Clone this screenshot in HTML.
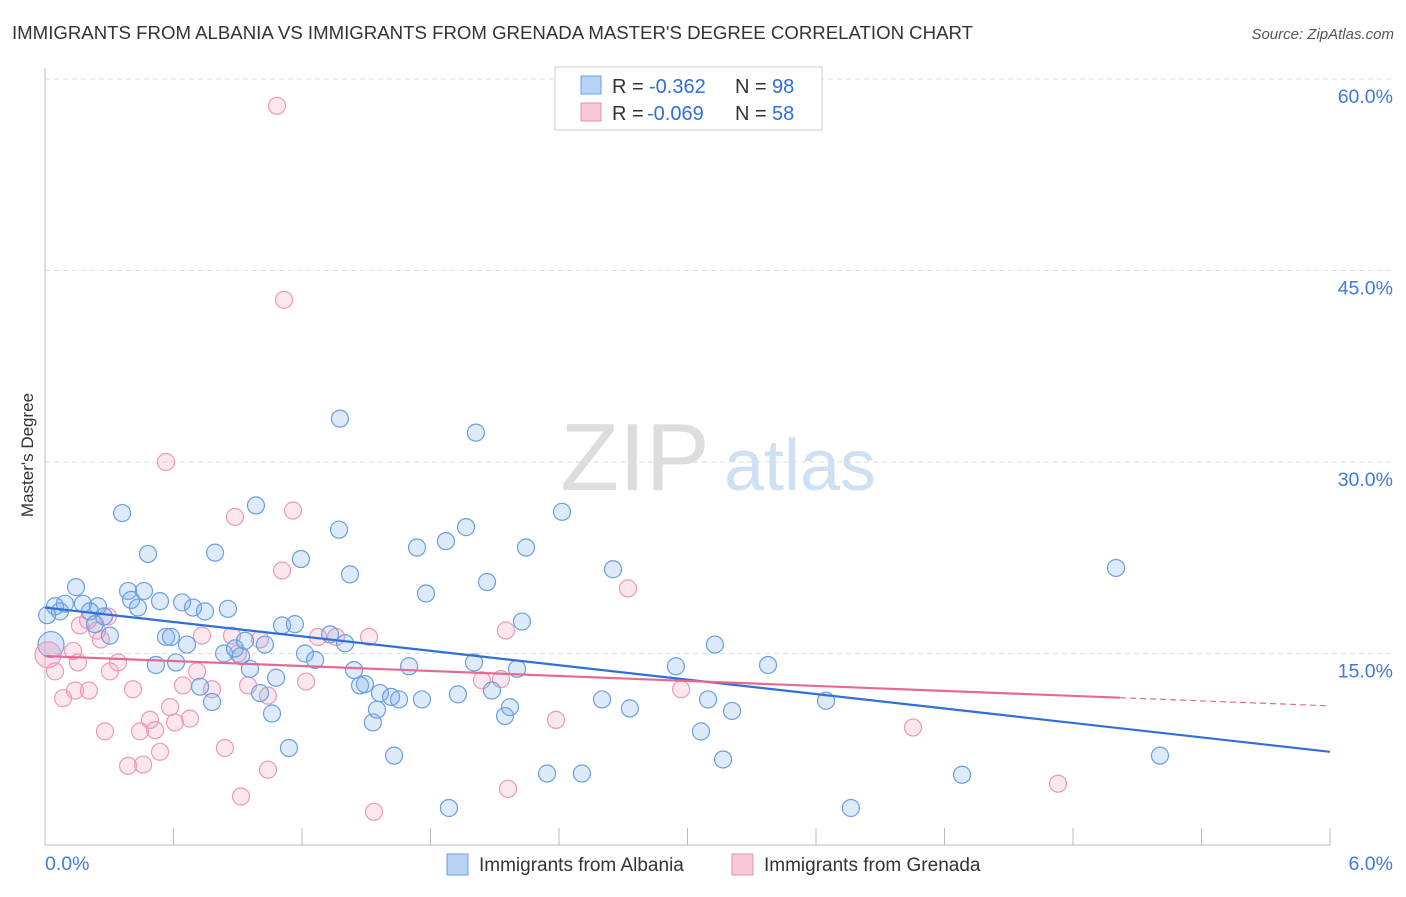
<!DOCTYPE html>
<html><head><meta charset="utf-8"><style>
body{margin:0;background:#fff;font-family:"Liberation Sans",sans-serif;}
svg text{font-family:"Liberation Sans",sans-serif;}
</style></head><body>
<svg id="chart" width="1406" height="892" viewBox="0 0 1406 892">
<text x="12" y="39" font-size="18" fill="#333" textLength="961" lengthAdjust="spacingAndGlyphs">IMMIGRANTS FROM ALBANIA VS IMMIGRANTS FROM GRENADA MASTER'S DEGREE CORRELATION CHART</text>
<text x="1394" y="39" font-size="15" fill="#555" text-anchor="end" font-style="italic">Source: ZipAtlas.com</text>
<text x="33" y="455" font-size="17" fill="#333" text-anchor="middle" transform="rotate(-90 33 455)">Master's Degree</text>
<g>
<text x="635" y="490" font-size="96" fill="#ddd" text-anchor="middle" font-family="Liberation Serif, serif">ZIP</text>
<text x="800" y="490" font-size="72" fill="#cfe0f3" text-anchor="middle">atlas</text>
</g>
<g id="grid"></g>
<g id="pts"></g>
<g id="lines"></g>
<g>
<rect x="555" y="67" width="267" height="63" fill="#fff" stroke="#ccc"/>
<rect x="581" y="76" width="20" height="18" fill="#b8d3f5" stroke="#6a9fe0"/>
<rect x="581" y="103" width="20" height="18" fill="#f9c9d8" stroke="#e890ac"/>
<text x="612" y="93" font-size="20" fill="#333">R =</text>
<text x="649" y="93" font-size="20" fill="#2f6fd6">-0.362</text>
<text x="735" y="93" font-size="20" fill="#333">N =</text>
<text x="772" y="93" font-size="20" fill="#2f6fd6">98</text>
<text x="612" y="120" font-size="20" fill="#333">R =</text>
<text x="647" y="120" font-size="20" fill="#2f6fd6">-0.069</text>
<text x="735" y="120" font-size="20" fill="#333">N =</text>
<text x="772" y="120" font-size="20" fill="#2f6fd6">58</text>
</g>
<g>
<rect x="447" y="854" width="21" height="21" fill="#b8d3f5" stroke="#6a9fe0"/>
<text x="479" y="871" font-size="19" fill="#333">Immigrants from Albania</text>
<rect x="732" y="854" width="21" height="21" fill="#f9c9d8" stroke="#e890ac"/>
<text x="764" y="871" font-size="19" fill="#333">Immigrants from Grenada</text>
</g>
</svg>
<script>
const xTicks=[0,0.6,1.2,1.8,2.4,3.0,3.6,4.2,4.8,5.4,6.0];
const yTicks=[15,30,45,60];
const yTickLabels=["15.0%","30.0%","45.0%","60.0%"];
const blueX=[0.145,0.093,0.177,0.047,0.247,0.07,0.21,0.275,0.233,0.303,0.36,0.481,0.388,0.462,0.402,0.537,0.434,0.64,0.691,0.747,0.854,0.794,0.985,1.377,2.012,2.414,5.001,0.565,0.588,0.663,0.518,0.612,0.836,0.887,0.915,0.957,1.027,0.934,1.107,1.167,1.195,1.214,1.261,1.331,1.401,1.373,1.424,1.443,1.471,1.494,1.55,1.531,1.564,1.616,1.653,1.7,1.737,1.779,1.76,1.872,1.928,1.966,2.003,2.064,2.087,2.148,2.171,2.204,2.227,2.246,2.344,2.507,2.652,2.601,2.731,2.946,3.063,3.096,3.128,3.166,3.208,3.376,3.647,3.763,4.282,5.206,0.724,0.78,1.004,1.06,1.079,1.139,1.63,1.886,0.01];
const blueY=[20.2,18.9,18.9,18.7,18.7,18.3,18.3,17.9,17.3,16.4,26.0,22.8,19.9,19.9,19.2,19.1,18.6,19.0,18.6,18.3,18.5,22.9,26.6,33.4,32.3,26.1,21.7,16.3,16.3,15.7,14.1,14.3,15.0,15.4,14.8,13.8,15.7,16.0,17.2,17.3,22.4,15.0,14.5,16.5,15.8,24.7,21.2,13.7,12.5,12.6,10.6,9.6,11.9,11.6,11.4,14.0,23.3,19.7,11.4,23.8,11.8,24.9,14.3,20.6,12.1,10.1,10.8,13.8,17.5,23.3,5.6,5.6,21.6,11.4,10.7,14.0,8.9,11.4,15.7,6.7,10.5,14.1,11.3,2.9,5.5,7.0,12.4,11.2,11.9,10.3,13.1,7.6,7.0,2.9,18.0];
const pinkX=[1.083,1.116,0.565,0.887,1.158,1.107,2.722,2.152,0.163,0.243,0.261,0.294,0.201,0.047,0.084,0.154,0.14,0.205,0.28,0.303,0.341,0.411,0.444,0.388,0.458,0.49,0.537,0.514,0.584,0.607,0.644,0.677,0.71,0.733,0.78,0.84,0.873,0.915,0.901,0.948,1.004,1.041,1.041,1.219,1.275,1.359,1.513,1.536,2.04,2.129,2.162,2.386,2.97,4.053,4.73,0.131];
const pinkY=[57.9,42.7,30.0,25.7,26.2,21.5,20.1,16.8,17.2,16.8,16.1,17.9,17.6,13.6,11.5,14.3,12.1,12.1,8.9,13.6,14.3,12.2,8.9,6.2,6.3,9.8,7.3,9.0,10.8,9.6,12.5,9.9,13.6,16.4,12.2,7.6,16.4,3.8,15.0,12.5,16.1,11.7,5.9,12.8,16.3,16.3,16.3,2.6,12.9,13.0,4.4,9.8,12.2,9.2,4.8,15.2];
const bigX=[0.014,0.0];
const bigY=[15.7,14.9];
const blueTrend=[18.6,7.3];
const pinkTrend=[14.8,10.9];
const pinkSolidEnd=5.02;

const X=v=>45+v/6*1285;
const Y=v=>845-v/15*191.5;
const NS="http://www.w3.org/2000/svg";
function mk(tag,attrs,parent){const e=document.createElementNS(NS,tag);for(const k in attrs)e.setAttribute(k,attrs[k]);parent.appendChild(e);return e;}
const grid=document.getElementById('grid');
mk('line',{x1:45,y1:68,x2:45,y2:845,stroke:'#bbb'},grid);
mk('line',{x1:45,y1:845,x2:1330,y2:845,stroke:'#bbb'},grid);
yTicks.forEach((t,i)=>{
 const l=mk('line',{x1:45,y1:Y(t),x2:1394,y2:Y(t),stroke:'#ddd','stroke-dasharray':'5,4'},grid);
 
 
 const tx=mk('text',{x:1393,y:Y(t)+24,'font-size':19.5,fill:'#3f7bd8','text-anchor':'end'},grid);
 tx.textContent=yTickLabels[i];
 
 
});
xTicks.forEach(t=>{
 const l=mk('line',{x1:X(t),y1:828,x2:X(t),y2:845,stroke:'#bbb'},grid);
 
 
});
const x0=mk('text',{x:45,y:870,'font-size':19.5,fill:'#3f7bd8'},grid);x0.textContent='0.0%';


const x6=mk('text',{x:1393,y:870,'font-size':19.5,fill:'#3f7bd8','text-anchor':'end'},grid);x6.textContent='6.0%';



const pts=document.getElementById('pts');
pinkX.forEach((v,i)=>{
 const c=mk('circle',{cx:X(v),cy:Y(pinkY[i]),r:8.5,fill:'rgba(244,160,188,0.25)',stroke:'#ec9ab4','stroke-width':1.2},pts);
 
 
});
blueX.forEach((v,i)=>{
 const c=mk('circle',{cx:X(v),cy:Y(blueY[i]),r:8.5,fill:'rgba(120,170,235,0.25)',stroke:'#6a9fe0','stroke-width':1.2},pts);
 
 
});
bigX.forEach((v,i)=>{
 const c=mk('circle',{cx:X(v)+3,cy:Y(bigY[i]),r:13,fill:i?'rgba(244,160,188,0.35)':'rgba(120,170,235,0.3)',stroke:i?'#ec9ab4':'#6a9fe0','stroke-width':1.2},pts);
 
 
});
const lines=document.getElementById('lines');
const bl=mk('line',{x1:X(0),y1:Y(blueTrend[0]),x2:X(6),y2:Y(blueTrend[1]),stroke:'#2f6fd6','stroke-width':2.2},lines);


const pAt=x=>pinkTrend[0]+(pinkTrend[1]-pinkTrend[0])*x/6;
const pl=mk('line',{x1:X(0),y1:Y(pinkTrend[0]),x2:X(pinkSolidEnd),y2:Y(pAt(pinkSolidEnd)),stroke:'#e56a93','stroke-width':2.2},lines);


const pd=mk('line',{x1:X(pinkSolidEnd),y1:Y(pAt(pinkSolidEnd)),x2:X(6),y2:Y(pinkTrend[1]),stroke:'#e56a93','stroke-width':1.2,'stroke-dasharray':'6,4'},lines);


</script>
</body></html>
